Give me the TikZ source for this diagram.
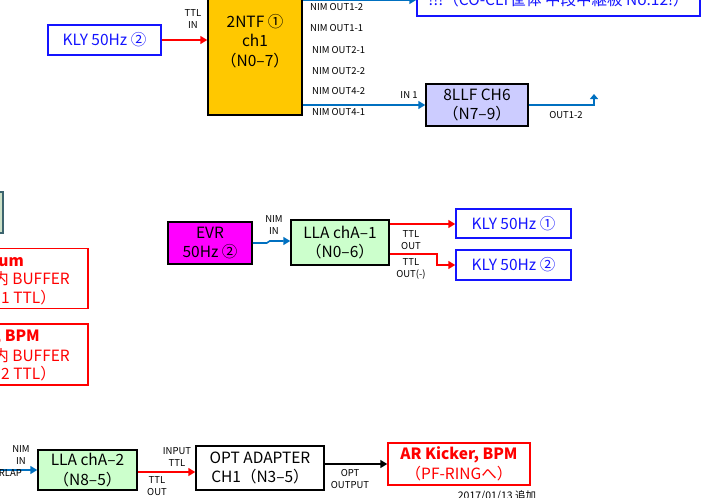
\documentclass[tikz,border=0pt]{standalone}
\usepackage{fontspec}
\setmainfont{Noto Sans CJK JP}
\usetikzlibrary{arrows.meta}
\definecolor{kblue}{RGB}{20,20,255}
\definecolor{lblue}{RGB}{0,112,192}
\definecolor{kred}{RGB}{255,0,0}
\definecolor{kyellow}{RGB}{255,200,0}
\definecolor{klav}{RGB}{204,204,255}
\definecolor{kgreen}{RGB}{204,255,204}
\definecolor{kmag}{RGB}{255,0,255}
\definecolor{kteal}{RGB}{60,100,110}
\definecolor{kgreengray}{RGB}{205,225,200}
\begin{document}
\begin{tikzpicture}[x=1pt,y=-1pt,
  box/.style={draw, line width=1.5pt, align=center, inner sep=0pt, font=\fontsize{15.5}{19.5}\selectfont},
  blubox/.style={box, draw=kblue, text=kblue, fill=white},
  redbox/.style={box, draw=kred, text=kred, fill=white},
  lbl/.style={font=\fontsize{9.5}{12.5}\selectfont, align=center, inner sep=0pt},
  frag/.style={font=\fontsize{15.5}{19}\selectfont, text=kred, inner sep=0pt, anchor=east},
  conn/.style={line width=1.6pt, -{Triangle[length=7pt,width=8pt]}},
  redc/.style={conn, draw=kred},
  bluc/.style={conn, draw=lblue},
  blkc/.style={conn, draw=black}]
\useasboundingbox (0,0) rectangle (716,498);
\clip (0,0) rectangle (716,498);

% top section
\node[blubox, minimum width=113pt, minimum height=30pt] (klytop) at (104.5,40) {KLY 50Hz ②};
\node[box, fill=kyellow, minimum width=94pt, minimum height=148pt] (ntf) at (255,41) {2NTF ①\\ch1\\（N0–7）};
\node[blubox, minimum width=283pt, minimum height=32pt] (co) at (558.5,0) {!!!（CO-CLT筐体 中段中継板 No.12!）};
\node[box, fill=klav, minimum width=102pt, minimum height=42pt] (llf) at (477,105) {8LLF CH6\\（N7–9）};
\coordinate (up) at (594,94);

\draw[redc] (klytop.east) -- (ntf.west |- klytop.east);
\node[lbl] (ttlin) at (193,19) {TTL\\IN};
\draw[bluc] (ntf.east |- co.west) -- (co.west);
\draw[bluc] (ntf.east |- llf.west) -- (llf.west);
\node[lbl] (in1) at (409,95) {IN 1};
\draw[bluc, -{Triangle[length=5pt,width=8pt]}] (llf.east) -- (up |- llf.east) -- (up);
\node[lbl] (out12) at (566,115) {OUT1-2};

\node[lbl, anchor=west] (o12) at (310,7) {NIM OUT1-2};
\node[lbl, anchor=west] (o11) at (310,28) {NIM OUT1-1};
\node[lbl, anchor=west] (o21) at (312,50) {NIM OUT2-1};
\node[lbl, anchor=west] (o22) at (312,71) {NIM OUT2-2};
\node[lbl, anchor=west] (o42) at (312,91) {NIM OUT4-2};
\node[lbl, anchor=west] (o41) at (312,112) {NIM OUT4-1};

% left clipped boxes
\node[draw=kteal, fill=kgreengray, line width=1.5pt, minimum width=60pt, minimum height=41pt] (lp) at (-27,212.5) {};
\node[redbox, minimum width=180pt, minimum height=60pt] (rb1) at (-2,278.5) {};
\node[redbox, minimum width=180pt, minimum height=61pt] (rb2) at (-2,354.5) {};
\node[frag, font=\fontsize{15.5}{19}\selectfont\bfseries] (t1a) at (24,261) {tum};
\node[frag] (t1b) at (70,279) {内 BUFFER};
\node[frag] (t1c) at (56,298) {1 TTL）};
\node[frag, font=\fontsize{15.5}{19}\selectfont\bfseries] (t2a) at (40,337) {, BPM};
\node[frag] (t2b) at (70,356) {内 BUFFER};
\node[frag] (t2c) at (56,374) {2 TTL）};

% middle section
\node[box, fill=kmag, minimum width=84pt, minimum height=42pt] (evr) at (210,243) {EVR\\50Hz ②};
\node[box, fill=kgreen, minimum width=98pt, minimum height=45pt] (lla1) at (340,242.5) {LLA chA–1\\（N0–6）};
\node[blubox, minimum width=115pt, minimum height=29pt] (kly1) at (513.5,223.5) {KLY 50Hz ①};
\node[blubox, minimum width=115pt, minimum height=30pt] (kly2) at (513.5,265) {KLY 50Hz ②};
\coordinate (bend) at (437,254);

\draw[bluc] (evr.east) -- ++(14,0) -- ++(3,-2) -- (lla1.west |- 0,241);
\node[lbl] (nimin1) at (274,225) {NIM\\IN};
\draw[redc] (lla1.east |- 0,224) -- (kly1.west |- 0,224);
\node[lbl] (ttlout1) at (411,240) {TTL\\OUT};
\draw[redc] (lla1.east |- bend) -- (bend) -- (bend |- kly2.west) -- (kly2.west);
\node[lbl] (ttlout2) at (411,269) {TTL\\OUT(-)};

% bottom section
\coordinate (lin) at (-5,470);
\node[box, fill=kgreen, minimum width=99pt, minimum height=40pt] (lla2) at (87.5,470) {LLA chA–2\\（N8–5）};
\node[box, fill=white, minimum width=128pt, minimum height=44pt] (opt) at (260,468) {OPT ADAPTER\\CH1（N3–5）};
\node[redbox, minimum width=142pt, minimum height=42pt] (ar) at (459,464) {\textbf{AR Kicker, BPM}\\（PF-RINGへ）};

\draw[bluc] (lin) -- (lla2.west |- lin);
\node[lbl] (nimin2) at (21,455) {NIM\\IN};
\node[lbl, anchor=east] (rlap) at (22,473) {RLAP};
\draw[redc] (lla2.east |- 0,472) -- (opt.west |- 0,472);
\node[lbl] (inttl) at (177,457) {INPUT\\TTL};
\node[lbl] (ttlout3) at (157,486) {TTL\\OUT};
\draw[blkc] (opt.east |- ar.west) -- (ar.west);
\node[lbl] (optout) at (350,479) {OPT\\OUTPUT};
\node[lbl, font=\fontsize{10.5}{12}\selectfont] (date) at (497,496) {2017/01/13 追加};
\end{tikzpicture}
\end{document}
